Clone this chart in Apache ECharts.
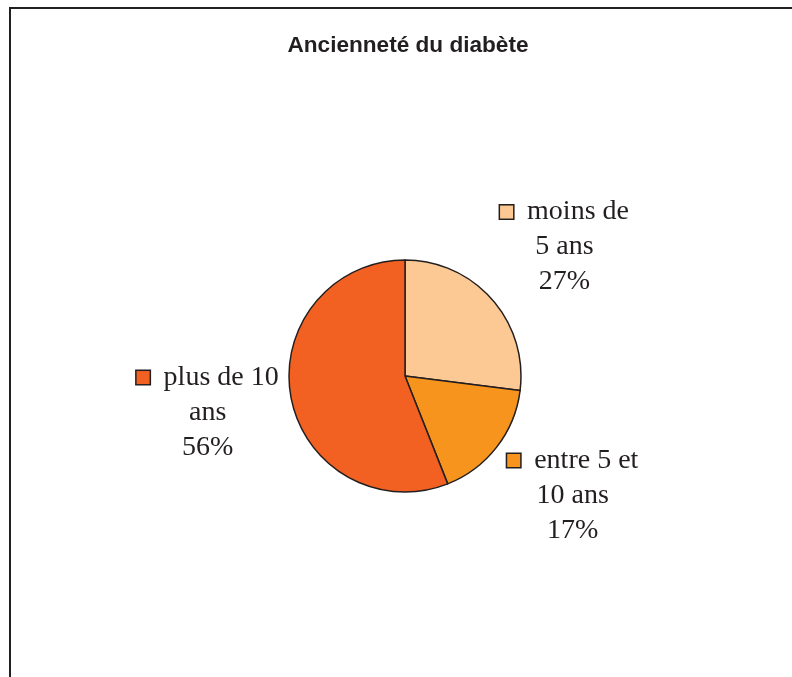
<!DOCTYPE html>
<html>
<head>
<meta charset="utf-8">
<script src="https://cdn.jsdelivr.net/npm/echarts@6/dist/echarts.min.js"></script>
<style>
  html, body { margin: 0; padding: 0; background: #fff; }
  #chart { width: 792px; height: 677px; }
</style>
</head>
<body>
<div id="chart"></div>
<script>
// data
const categories = ['moins de\n5 ans', 'entre 5 et\n10 ans', 'plus de 10\nans'];
const values = [27, 17, 56];
const colors = ['#FCC994', '#F7941D', '#F26122'];

const chart = echarts.init(document.getElementById('chart'));

const cx = 405, cy = 376, radius = 116;
// labels sit on a slightly flattened ring around the pie
const labelCx = cx + 5, labelRx = 206, labelRy = 195;
const total = values.reduce((a, b) => a + b, 0);

// mid angle of each slice, clockwise from 12 o'clock
const midAngles = [];
let acc = 0;
values.forEach(v => {
    midAngles.push((acc + v / 2) / total * Math.PI * 2);
    acc += v;
});

const option = {
    animation: false,
    title: {
        text: 'Ancienneté du diabète',
        left: 403,
        textAlign: 'center',
        top: 29,
        textStyle: {
            fontFamily: 'Liberation Sans',
            fontWeight: 'bold',
            fontSize: 22.6,
            color: '#231F20'
        }
    },
    graphic: [{
        type: 'rect',
        shape: { x: 10, y: 8, width: 800, height: 700 },
        style: { fill: 'none', stroke: '#231F20', lineWidth: 2 },
        silent: true
    }],
    series: [{
        type: 'pie',
        center: [cx, cy],
        radius: radius,
        startAngle: 90,
        clockwise: true,
        itemStyle: { borderColor: '#231F20', borderWidth: 1.5 },
        labelLine: { show: false },
        label: {
            show: true,
            fontFamily: 'Liberation Serif',
            fontSize: 28,
            lineHeight: 35,
            color: '#231F20',
            align: 'center',
            formatter: p => '{sq' + p.dataIndex + '|}  ' + p.name + '\n' + p.value + '%',
            rich: Object.fromEntries(colors.map((c, i) => ['sq' + i, {
                width: 13, height: 13,
                backgroundColor: c,
                borderColor: '#231F20',
                borderWidth: 1.5
            }]))
        },
        labelLayout: params => {
            const a = midAngles[params.dataIndex];
            return {
                x: labelCx + labelRx * Math.sin(a),
                y: cy - labelRy * Math.cos(a),
                align: 'center',
                verticalAlign: 'middle'
            };
        },
        data: categories.map((name, i) => ({
            name: name,
            value: values[i],
            itemStyle: { color: colors[i] }
        }))
    }]
};

chart.setOption(option);
</script>
</body>
</html>
